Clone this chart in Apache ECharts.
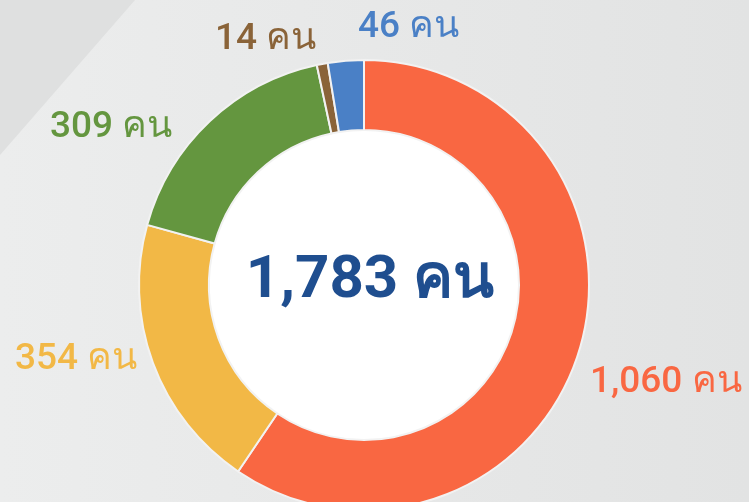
<!DOCTYPE html>
<html>
<head>
<meta charset="utf-8">
<script src="https://cdn.jsdelivr.net/npm/echarts@6/dist/echarts.min.js"></script>
<style>
  html, body { margin: 0; padding: 0; }
  #main { width: 749px; height: 502px; }
</style>
</head>
<body>
<div id="main"></div>
<script>
var names = ['1,060', '354', '309', '14', '46'];
var values = [1060, 354, 309, 14, 46];
var colors = ['#F96742', '#F2B846', '#64963F', '#8A6338', '#4A80C6'];
var unit = 'คน';
var total = 1783;

// where each outside label sits (left edge, vertical middle)
var labelPos = [[590, 383], [15, 360], [50, 128], [215, 40], [358, 28]];

var myChart = echarts.init(document.getElementById('main'));
var font = 'Roboto, "Noto Sans", sans-serif';

option = {
    backgroundColor: {
        type: 'linear', x: 0, y: 0, x2: 1, y2: 0,
        colorStops: [{offset: 0, color: '#ECEDED'}, {offset: 1, color: '#E2E3E3'}]
    },
    graphic: [
        {
            type: 'polygon',
            shape: {points: [[0, 0], [135, 0], [0, 155]]},
            style: {fill: '#DFE0E0'},
            z: -1
        },
        {
            type: 'text',
            x: 370,
            y: 282,
            style: {
                text: echarts.format.addCommas(total) + ' ' + unit,
                fill: '#1F4E8F',
                font: 'bold 60px ' + font,
                textAlign: 'center',
                textVerticalAlign: 'middle'
            },
            z: 100
        }
    ],
    series: [
        {
            type: 'pie',
            center: [364, 285],
            radius: [0, 155],
            silent: true,
            label: {show: false},
            labelLine: {show: false},
            itemStyle: {color: '#FFFFFF'},
            data: [{name: 'total', value: total}]
        },
        {
            type: 'pie',
            center: [364, 285],
            radius: [155, 225],
            startAngle: 90,
            clockwise: true,
            silent: true,
            itemStyle: {borderColor: '#F2F2F2', borderWidth: 2},
            label: {
                show: true,
                position: 'outside',
                fontFamily: font,
                fontSize: 37,
                fontWeight: 500,
                overflow: 'none',
                formatter: function (p) { return p.name + ' ' + unit; }
            },
            labelLine: {show: false},
            labelLayout: function (p) {
                var pos = labelPos[p.dataIndex];
                return {x: pos[0], y: pos[1], align: 'left', verticalAlign: 'middle', width: 220};
            },
            data: values.map(function (v, i) {
                return {
                    name: names[i],
                    value: v,
                    itemStyle: {color: colors[i]},
                    label: {color: colors[i]}
                };
            })
        }
    ]
};
myChart.setOption(option);
window.onresize = myChart.resize;
</script>
</body>
</html>
